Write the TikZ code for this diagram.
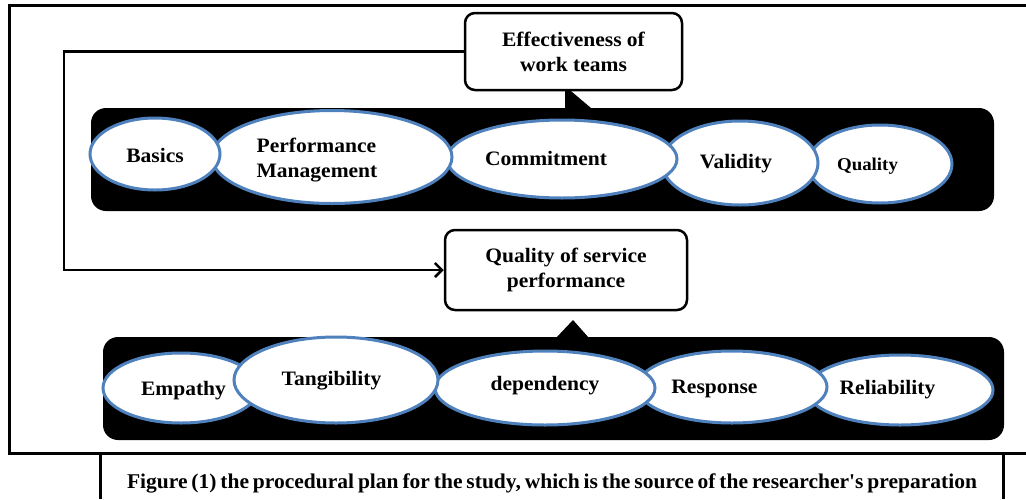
\documentclass[tikz,border=0pt]{standalone}
\usepackage{fontspec}
\setmainfont{Liberation Serif}
\newfontfamily\lblfont[FakeStretch=1.05]{Liberation Serif}
\usetikzlibrary{shapes.geometric,arrows.meta}
\definecolor{ovalblue}{RGB}{79,129,189}
\begin{document}
\begin{tikzpicture}[x=1pt,y=-1pt,
  band/.style={fill=black, rounded corners=15pt},
  oval/.style={ellipse, draw=ovalblue, line width=3pt, fill=white, inner sep=0pt},
  lbl/.style={font=\lblfont\fontsize{20.5}{25}\selectfont\bfseries, inner sep=0pt, anchor=base},
  mlbl/.style={font=\lblfont\fontsize{20.5}{25}\selectfont\bfseries, inner sep=0pt},
  sbox/.style={draw, line width=2.5pt, rounded corners=10pt, fill=white, inner sep=0pt,
     align=center, font=\lblfont\fontsize{20.5}{25}\selectfont\bfseries},
  frameline/.style={line width=3pt},
  conn/.style={line width=2.5pt}]
\useasboundingbox (0,0) rectangle (1026,499);

% outer frame
\draw[frameline] (1026,5) -- (9,5) -- (9,453) -- (1026,453);
% caption box sides
\draw[frameline] (100,453) -- (100,499);
\draw[frameline] (1003,453) -- (1003,499);
\node[inner sep=0pt, anchor=base] (caption) at (552,488)
  {\resizebox{850pt}{\height}{\fontsize{21}{25}\selectfont\bfseries\spaceskip=0.18em Figure (1) the procedural plan for the study, which is the source of the researcher\textquotesingle s preparation}};

% black bands
\path[band] (91,108) rectangle (994,211);
\path[band] (103,337) rectangle (1004,440);

% pointers
\fill (565,86) -- (565,108) -- (591,108) -- cycle;
\fill (556,338) -- (573,320) -- (589,338) -- cycle;

% boxes
\node[sbox, minimum width=217pt, minimum height=77pt] (eff) at (573.5,51.5)
  {Effectiveness of\\work teams};
\node[sbox, minimum width=242pt, minimum height=80pt] (qsp) at (566,270)
  {Quality of service\\performance};

% connector
\coordinate (corner) at (64,51.5);
\draw[conn, -{Straight Barb[length=7pt,width=14pt,line width=2.5pt]}]
  (eff.west) -- (corner) |- (qsp.west);

% upper ovals
\node[oval, minimum width=144pt, minimum height=78pt] (quality) at (880,164) {};
\node[oval, minimum width=156pt, minimum height=84pt] (validity) at (740,163) {};
\node[oval, minimum width=230pt, minimum height=78pt] (commit) at (562,159) {};
\node[oval, minimum width=240pt, minimum height=93pt] (pm) at (332,157) {};
\node[oval, minimum width=130pt, minimum height=72pt] (basics) at (155,154) {};

\node[lbl] (basicsT) at (155,162) {Basics};
\node[mlbl, align=left] (pmT) at (317,160) {Performance\\Management};
\node[lbl] (commitT) at (546,165) {Commitment};
\node[lbl] (validT) at (736,168) {Validity};
\node[lbl, font=\lblfont\fontsize{18}{21}\selectfont\bfseries] (qualT) at (867.5,170) {Quality};

% lower ovals
\node[oval, minimum width=156pt, minimum height=70pt] (empathy) at (181,388) {};
\node[oval, minimum width=186pt, minimum height=70pt] (reliab) at (900,390) {};
\node[oval, minimum width=190pt, minimum height=72pt] (response) at (732,387) {};
\node[oval, minimum width=220pt, minimum height=74pt] (depend) at (545,388) {};
\node[oval, minimum width=204pt, minimum height=86pt] (tang) at (336,380) {};

\node[lbl] (empT) at (183.5,395) {Empathy};
\node[lbl] (tangT) at (331.5,385) {Tangibility};
\node[lbl] (depT) at (545,390) {dependency};
\node[lbl] (respT) at (714.5,393) {Response};
\node[lbl] (relT) at (887.5,394) {Reliability};
\end{tikzpicture}
\end{document}
